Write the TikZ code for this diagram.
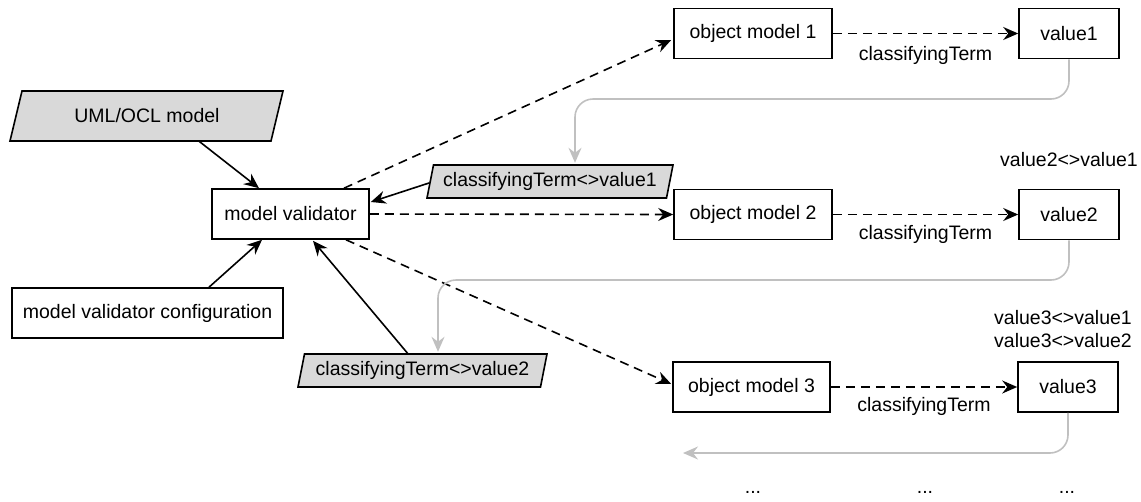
\documentclass[tikz,border=0pt]{standalone}
\usepackage{fontspec}
\setmainfont{Liberation Sans}
\usetikzlibrary{arrows.meta,calc}
\definecolor{paragray}{RGB}{217,217,217}
\definecolor{flowgray}{RGB}{192,192,192}
\begin{document}
\begin{tikzpicture}[x=1pt,y=-1pt,
  font=\fontsize{19.5}{23}\selectfont,
  box/.style={draw=black,line width=1.6pt,fill=white,inner sep=0pt,minimum height=50pt},
  txt/.style={inner sep=0pt},
  para/.style={draw=black,line width=1.6pt,fill=paragray,line join=miter},
  solidarrow/.style={draw=black,line width=1.6pt,-{Stealth[length=15pt,width=13pt,inset=5pt]}},
  dasharrow/.style={draw=black,line width=1.6pt,dash pattern=on 9pt off 6pt,-{Stealth[length=15pt,width=13pt,inset=5pt]}},
  grayarrow/.style={draw=flowgray,line width=1.6pt,rounded corners=18pt,-{Stealth[length=15pt,width=13pt,inset=5pt,fill=flowgray]}},
  lbl/.style={inner sep=0pt}
]
\useasboundingbox (0,0) rectangle (1141,501);

% parallelograms
\filldraw[para] (10,141) -- (22,91) -- (283,91) -- (271,141) -- cycle;
\node[txt,minimum height=50pt] (uml) at (147,116) {UML/OCL model};
\filldraw[para] (427,198) -- (433.5,165) -- (673,165) -- (666.5,198) -- cycle;
\node[txt,minimum height=33pt] (ct1) at (550,181.5) {classifyingTerm<>value1};
\filldraw[para] (298,387) -- (304.5,354) -- (547,354) -- (540.5,387) -- cycle;
\node[txt,minimum height=33pt] (ct2) at (422.5,370.5) {classifyingTerm<>value2};

% boxes
\node[box,minimum width=157pt] (mv) at (290.5,214) {model validator};
\node[box,minimum width=271pt] (cfg) at (147.5,313) {model validator configuration};
\node[box,minimum width=158pt] (om1) at (753,33.5) {object model 1};
\node[box,minimum width=158pt] (om2) at (753,214.5) {object model 2};
\node[box,minimum width=157pt] (om3) at (751.5,387) {object model 3};
\node[box,minimum width=100pt] (v1) at (1069,33.5) {value1};
\node[box,minimum width=100pt] (v2) at (1069,214.5) {value2};
\node[box,minimum width=100pt] (v3) at (1068,387) {value3};

% free labels
\node[lbl] (l21) at (1069,160) {value2<>value1};
\node[lbl] (l31) at (1063,318) {value3<>value1};
\node[lbl] (l32) at (1063,341) {value3<>value2};
\node[lbl,anchor=base] (d1) at (753,493) {...};
\node[lbl,anchor=base] (d2) at (925,493) {...};
\node[lbl,anchor=base] (d3) at (1067,493) {...};

% solid arrows into model validator
\draw[solidarrow] ($(uml.south)+(52,0)$) -- ($(mv.north)+(-31.5,0)$);
\draw[solidarrow] ($(cfg.north)+(61.5,0)$) -- ($(mv.south)+(-28.5,0)$);
\draw[solidarrow] ($(ct2.north)+(-14.5,0)$) -- ($(mv.south)+(22.5,1)$);
\draw[solidarrow] ($(ct1.west)+(-14,1.5)$) -- ($(mv.east)+(1,-12)$);

% dashed arrows from model validator
\draw[dasharrow] ($(mv.north)+(53.5,0)$) -- ($(om1.west)+(-2,6.5)$);
\draw[dasharrow] (mv.east) -- (om2.west);
\draw[dasharrow] ($(mv.south)+(55.5,0)$) -- ($(om3.west)+(-1,-3)$);

% classifyingTerm arrows
\draw[dasharrow] (om1.east) -- node[lbl,below=12pt] {classifyingTerm} (v1.west);
\draw[dasharrow] (om2.east) -- node[lbl,below=10pt] {classifyingTerm} (v2.west);
\draw[dasharrow] (om3.east) -- node[lbl,below=10pt] {classifyingTerm} (v3.west);

% gray feedback arrows
\draw[grayarrow] (v1.south) |- (575,99) -- ($(ct1.north)+(25,-2)$);
\draw[grayarrow] (v2.south) |- (438,280) -- ($(ct2.north)+(15.5,-2)$);
\draw[grayarrow] (v3.south) |- (683,453);
\end{tikzpicture}
\end{document}
